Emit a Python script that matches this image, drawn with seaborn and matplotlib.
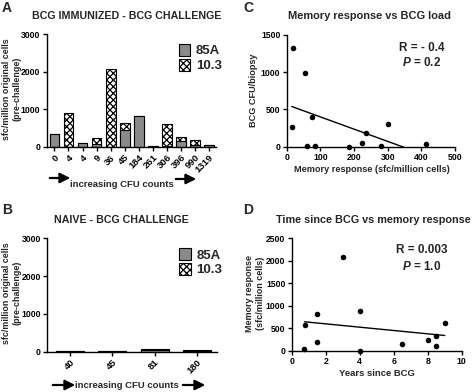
import pandas as pd
import numpy as np
import matplotlib
matplotlib.use("Agg")
import matplotlib.pyplot as plt
from matplotlib.patches import Patch, FancyArrowPatch
import seaborn as sns

# Panel A: BCG immunized - BCG challenge (stacked 85A + 10.3)
cfu_a = ["0", "4", "4 ", "9", "36", "45", "184", "261", "306", "396", "990", "1319"]
resp_85a_a = [340, 0, 110, 70, 0, 440, 820, 15, 20, 140, 50, 40]
resp_103_a = [0, 890, 0, 150, 2080, 200, 0, 0, 580, 130, 120, 10]

# Panel B: naive - BCG challenge
cfu_b = ["40", "45", "81", "180"]
resp_85a_b = [10, 20, 40, 30]
resp_103_b = [5, 10, 30, 20]

# Panel C: memory response vs BCG load
mem_c = [20, 55, 15, 75, 60, 85, 185, 225, 235, 280, 300, 415]
cfu_c = [1320, 990, 260, 400, 5, 10, 0, 45, 185, 5, 305, 35]

# Panel D: years since BCG vs memory response
years_d = [0.75, 0.8, 1.5, 1.5, 3, 4, 4, 6.5, 8, 8.5, 8.5, 9]
mem_d = [40, 580, 810, 210, 2080, 880, 5, 150, 240, 330, 100, 620]

sns.set_style("ticks")
plt.rcParams['font.family'] = ['Liberation Sans', 'DejaVu Sans']
plt.rcParams['font.weight'] = 'bold'
plt.rcParams['mathtext.fontset'] = 'custom'
plt.rcParams['mathtext.it'] = 'Liberation Sans:italic:bold'
plt.rcParams['mathtext.rm'] = 'Liberation Sans:bold'
plt.rcParams['hatch.linewidth'] = 0.9

W, H = 474, 392
fig = plt.figure(figsize=(W / 100, H / 100), dpi=100)


def add_ax(left, top, right, bottom):
    return fig.add_axes([left / W, 1 - bottom / H, (right - left) / W, (bottom - top) / H])


def ftext(x, y, s, **kw):
    fig.text(x / W, 1 - y / H, s, **kw)


def farrow(x0, x1, y):
    fig.add_artist(FancyArrowPatch(
        (x0 / W, 1 - y / H), (x1 / W, 1 - y / H), transform=fig.transFigure,
        arrowstyle='-|>,head_length=0.6,head_width=0.3', mutation_scale=10,
        lw=1.6, color='black'))


def style_ax(ax, xsize=6.3):
    sns.despine(ax=ax)
    for sp in ['left', 'bottom']:
        ax.spines[sp].set_linewidth(1.0)
        ax.spines[sp].set_color('black')
    ax.tick_params(length=3, width=1.0, labelsize=6.2, pad=1.5, colors='black')
    ax.tick_params(axis='x', labelsize=xsize)
    for lab in ax.get_xticklabels() + ax.get_yticklabels():
        lab.set_fontweight('bold')


def stacked_bars(ax, cats, bottom_vals, top_vals, width):
    df = pd.DataFrame({"cfu": cats,
                       "total": np.array(bottom_vals) + np.array(top_vals),
                       "base": bottom_vals})
    sns.barplot(data=df, x="cfu", y="total", ax=ax, color='white', width=width,
                edgecolor='black', linewidth=0.8, hatch='xxxxx', saturation=1)
    sns.barplot(data=df, x="cfu", y="base", ax=ax, color='#8a8a8a', width=width,
                edgecolor='black', linewidth=0.8, saturation=1)
    ax.set_ylim(0, 3000)
    ax.set_yticks([0, 1000, 2000, 3000])
    ax.set_xlabel("")
    ax.set_ylabel("")
    style_ax(ax, xsize=6.8)
    ax.set_xticks(range(len(cats)))
    ax.set_xticklabels([c.strip() for c in cats], rotation=45, ha='right',
                       rotation_mode='anchor', fontweight='bold')
    handles = [Patch(facecolor='#8a8a8a', edgecolor='black', lw=0.8, label='85A'),
               Patch(facecolor='white', edgecolor='black', lw=0.8, hatch='xxxxx', label='10.3')]
    ax.legend(handles=handles, loc='upper left', bbox_to_anchor=(0.74, 0.97),
              frameon=False, handlelength=0.9, handleheight=1.0,
              handletextpad=0.4, labelspacing=0.1, borderpad=0,
              prop={'weight': 'bold', 'size': 9.5})


# Panel A
ax_a = add_ax(46.7, 34, 216, 146.7)
stacked_bars(ax_a, cfu_a, resp_85a_a, resp_103_a, 0.7)
ax_a.set_xlim(-0.55, 11.5)

# Panel B
ax_b = add_ax(47, 238.3, 217, 351.7)
stacked_bars(ax_b, cfu_b, resp_85a_b, resp_103_b, 0.66)
ax_b.set_xlim(-0.54, 3.47)

# Panel C
ax_c = add_ax(286.7, 34.7, 455, 146.7)
sns.regplot(x=mem_c, y=cfu_c, ax=ax_c, ci=None, scatter=False, truncate=True,
            line_kws=dict(color='black', lw=1.0))
sns.scatterplot(x=mem_c, y=cfu_c, ax=ax_c, color='black', s=16, linewidth=0,
                clip_on=False, zorder=3)
ax_c.set_xlim(0, 500)
ax_c.set_ylim(0, 1500)
ax_c.set_xticks(range(0, 501, 100))
ax_c.set_yticks([0, 500, 1000, 1500])
style_ax(ax_c)

# Panel D
ax_d = add_ax(291.7, 238.3, 461.7, 351)
sns.regplot(x=years_d, y=mem_d, ax=ax_d, ci=None, scatter=False, truncate=True,
            line_kws=dict(color='black', lw=1.0))
sns.scatterplot(x=years_d, y=mem_d, ax=ax_d, color='black', s=16, linewidth=0,
                clip_on=False, zorder=3)
ax_d.set_xlim(0, 10)
ax_d.set_ylim(0, 2500)
ax_d.set_xticks(range(0, 11, 2))
ax_d.set_yticks(range(0, 2501, 500))
style_ax(ax_d)

# Panel letters and titles
for x, y, s in [(2, 8, "A"), (243, 8, "C"), (2, 210, "B"), (243, 210, "D")]:
    ftext(x, y, s, fontsize=10, fontweight='bold', va='center', ha='left')

ftext(127, 16, "BCG IMMUNIZED - BCG CHALLENGE", fontsize=7.7, fontweight='bold', ha='center', va='center')
ftext(370, 16, "Memory response vs BCG load", fontsize=7.9, fontweight='bold', ha='center', va='center')
ftext(121, 220, "NAIVE - BCG CHALLENGE", fontsize=7.7, fontweight='bold', ha='center', va='center')
ftext(276, 220, "Time since BCG vs memory response", fontsize=7.8, fontweight='bold', ha='left', va='center')

# Axis labels
ftext(12, 89, "sfc/million original cells\n(pre-challenge)", fontsize=6.4, fontweight='bold',
      rotation=90, ha='center', va='center', linespacing=1.25)
ftext(12, 293, "sfc/million original cells\n(pre-challenge)", fontsize=6.4, fontweight='bold',
      rotation=90, ha='center', va='center', linespacing=1.25)
ftext(254, 90, "BCG CFU/biopsy", fontsize=6.6, fontweight='bold', rotation=90, ha='center', va='center')
ftext(255, 293, "Memory response\n(sfc/million cells)", fontsize=6.5, fontweight='bold',
      rotation=90, ha='center', va='center', linespacing=1.15)
ftext(372, 170, "Memory response (sfc/million cells)", fontsize=6.6, fontweight='bold', ha='center', va='center')
ftext(377, 373, "Years since BCG", fontsize=6.8, fontweight='bold', ha='center', va='center')

# Increasing CFU arrows
ftext(122, 185, "increasing CFU counts", fontsize=6.8, fontweight='bold', ha='center', va='center')
farrow(47, 73, 178)
farrow(173, 199, 179)
ftext(127, 386, "increasing CFU counts", fontsize=6.8, fontweight='bold', ha='center', va='center')
farrow(50, 78, 385)
farrow(180, 208, 385)

# Stats text
ftext(422, 48, "R = - 0.4", fontsize=8.5, fontweight='bold', ha='center', va='center')
ftext(422, 62, "$P$ = 0.2", fontsize=8.5, fontweight='bold', ha='center', va='center')
ftext(422, 250, "R = 0.003", fontsize=8.5, fontweight='bold', ha='center', va='center')
ftext(422, 266, "$P$ = 1.0", fontsize=8.5, fontweight='bold', ha='center', va='center')

fig.savefig("out.png", dpi=100)
